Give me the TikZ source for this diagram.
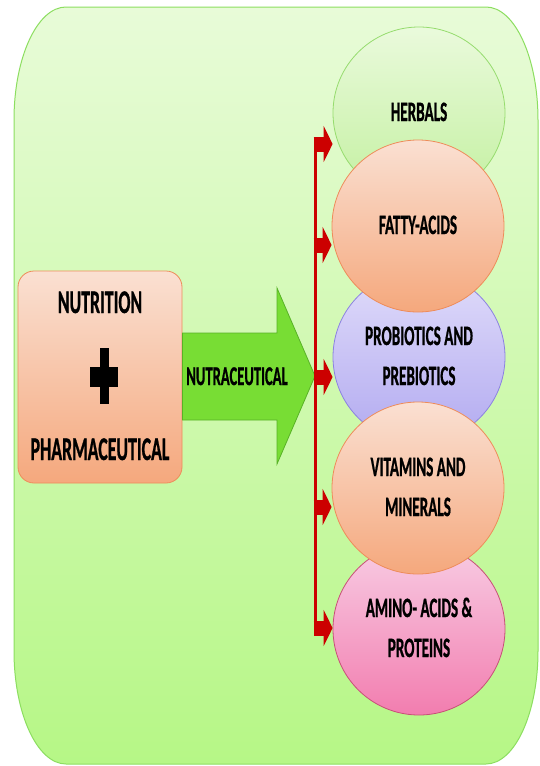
\documentclass[tikz,border=0pt]{standalone}
\usepackage{fontspec}
\usepackage{graphicx}
\usepackage{tikz}
\newfontfamily\calfont[BoldFeatures={FakeBold=1.2}]{Carlito}
\usetikzlibrary{arrows.meta}

\definecolor{bgtop}{RGB}{232,251,216}
\definecolor{bgbot}{RGB}{182,247,134}
\definecolor{bgline}{RGB}{140,222,96}
\definecolor{srctop}{RGB}{250,224,210}
\definecolor{srcbot}{RGB}{245,168,125}
\definecolor{srcline}{RGB}{238,140,90}
\definecolor{nutrafill}{RGB}{120,221,52}
\definecolor{nutraline}{RGB}{88,178,38}
\definecolor{feedred}{RGB}{204,0,0}
\definecolor{herbtop}{RGB}{234,250,220}
\definecolor{herbbot}{RGB}{195,240,160}
\definecolor{herbline}{RGB}{150,220,110}
\definecolor{probtop}{RGB}{224,220,250}
\definecolor{probbot}{RGB}{178,170,240}
\definecolor{probline}{RGB}{140,130,225}
\definecolor{aminotop}{RGB}{248,205,228}
\definecolor{aminobot}{RGB}{242,125,175}
\definecolor{aminoline}{RGB}{200,80,120}

\newcommand\cond[1]{\scalebox{0.54}[1]{\begin{tabular}{@{}c@{}}#1\end{tabular}}}

\tikzset{
	item/.style={circle, minimum size=172pt, inner sep=0pt, line width=0.8pt, font=\calfont\bfseries\fontsize{28}{40}\selectfont},
	herb/.style={draw=herbline, top color=herbtop, bottom color=herbbot},
	fatty/.style={draw=srcline, top color=srctop, bottom color=srcbot},
	probio/.style={draw=probline, top color=probtop, bottom color=probbot},
	amino/.style={draw=aminoline, top color=aminotop, bottom color=aminobot},
	feed/.style={feedred, line width=15pt, -{Triangle[length=9pt,width=36pt]}},
}

\begin{document}
\begin{tikzpicture}[x=1pt, y=-1pt]
			\useasboundingbox (0,0) rectangle (540,766);
			% background panel
			\draw[bgline, line width=1pt, top color=bgtop, bottom color=bgbot]
				(14,120) arc[start angle=180, end angle=270, x radius=52, y radius=113]
				-- (486,7) arc[start angle=270, end angle=360, x radius=52, y radius=113]
				-- (538,651) arc[start angle=0, end angle=90, x radius=52, y radius=113]
				-- (66,764) arc[start angle=90, end angle=180, x radius=52, y radius=113]
				-- cycle;
			% source box
			\node[draw=srcline, line width=0.8pt, rounded corners=16pt, top color=srctop, bottom color=srcbot,
				minimum width=164pt, minimum height=212pt] (src) at (100,377) {};
			\node[font=\calfont\bfseries\fontsize{33}{40}\selectfont] (nutri) at (100,305) {\cond{NUTRITION}};
			\node[font=\calfont\bfseries\fontsize{33}{40}\selectfont] (pharma) at (100,452) {\cond{PHARMACEUTICAL}};
			\fill (99.5,348) rectangle (108.5,404);
			\fill (90,367) rectangle (118,387);
			% big arrow
			\draw[nutraline, line width=0.8pt, fill=nutrafill]
				(src.east |- 0,333) -- (277,333) -- (277,288) -- (315,376) -- (277,464) -- (277,420) -- (src.east |- 0,420) -- cycle;
			\node[font=\calfont\bfseries\fontsize{27}{40}\selectfont] (nutra) at (237,377) {\cond{NUTRACEUTICAL}};
			% circles, back row first
			\foreach \n/\y/\c/\txt in {1/113/herb/{HERBALS}, 3/357/probio/{PROBIOTICS AND\\PREBIOTICS}, 5/629/amino/{AMINO- ACIDS \&\\PROTEINS}}{
				\node[item, \c] (C-\n) at (419,\y) {\cond{\txt}};
			}
			\foreach \n/\y/\txt in {2/226/{FATTY-ACIDS}, 4/488/{VITAMINS AND\\MINERALS}}{
				\node[item, fatty] (C-\n) at (418,\y) {\cond{\txt}};
			}
			% red bracket
			\coordinate (top) at (315,137);
			\coordinate (bot) at (315,636);
			\draw[feedred, line width=3pt] (top) -- (bot);
			\foreach \n/\y in {1/144, 2/245, 3/377, 4/507, 5/628}{
				\coordinate (B-\n) at (313.5,\y);
				\draw[feed] (B-\n) -- (B-\n -| C-\n.west);
			}
		\end{tikzpicture}
\end{document}
